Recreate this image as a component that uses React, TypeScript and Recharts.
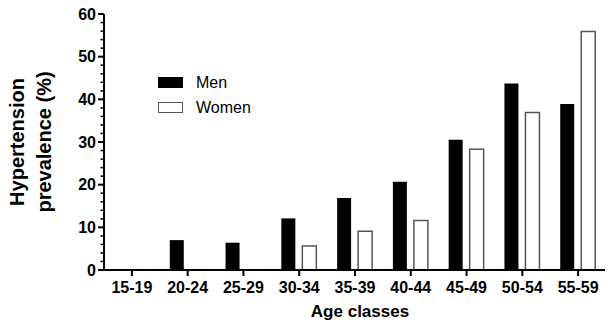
import React from 'react';
import { BarChart, Bar, XAxis, YAxis, Legend } from 'recharts';

const ageClasses = ['15-19', '20-24', '25-29', '30-34', '35-39', '40-44', '45-49', '50-54', '55-59'];
const menValues = [0, 7.0, 6.4, 12.1, 16.9, 20.7, 30.5, 43.7, 38.9];
const womenValues = [0, 0, 0, 5.6, 9.1, 11.6, 28.3, 36.9, 55.9];
const yTicks = [0, 2, 4, 6, 8, 10, 12, 14, 16, 18, 20, 22, 24, 26, 28, 30, 32, 34, 36, 38, 40, 42, 44, 46, 48, 50, 52, 54, 56, 58, 60];
const yMajorTicks = [0, 10, 20, 30, 40, 50, 60];

const data = ageClasses.map((age, i) => ({
  age,
  men: menValues[i],
  women: womenValues[i],
}));

const FONT = '"Liberation Sans", Arial, Helvetica, sans-serif';

const YTick = ({ x, y, payload }: any) => {
  const isMajor = yMajorTicks.includes(payload.value);
  const axisX = x + 8;
  return (
    <g>
      <line
        x1={isMajor ? axisX - 6 : axisX - 3.5}
        x2={axisX}
        y1={y}
        y2={y}
        stroke="#000"
        strokeWidth={isMajor ? 2 : 1.5}
      />
      {isMajor && (
        <text
          x={x}
          y={y}
          dy="0.355em"
          textAnchor="end"
          fontFamily={FONT}
          fontWeight="bold"
          fontSize={16}
          fill="#000"
        >
          {payload.value}
        </text>
      )}
    </g>
  );
};

const YLabel = () => (
  <g fontFamily={FONT} fontWeight="bold" fontSize={20} fill="#000">
    <text x={24} y={142} textAnchor="middle" transform="rotate(-90, 24, 142)">
      Hypertension
    </text>
    <text x={51} y={142} textAnchor="middle" transform="rotate(-90, 51, 142)">
      prevalence (%)
    </text>
  </g>
);

const XLabel = () => (
  <text
    x={360}
    y={317}
    textAnchor="middle"
    fontFamily={FONT}
    fontWeight="bold"
    fontSize={17}
    fill="#000"
  >
    Age classes
  </text>
);

const LegendContent = () => (
  <div style={{ fontFamily: FONT, fontSize: 16, color: '#000' }}>
    {[
      { name: 'Men', fill: '#000', stroke: '#000' },
      { name: 'Women', fill: '#fff', stroke: '#555' },
    ].map((item) => (
      <div key={item.name} style={{ display: 'flex', alignItems: 'center', height: 25 }}>
        <div
          style={{
            width: 23,
            height: 9,
            background: item.fill,
            border: `1px solid ${item.stroke}`,
            marginRight: 13,
          }}
        />
        <span>{item.name}</span>
      </div>
    ))}
  </div>
);

export default function App() {
  return (
    <div style={{ margin: '-8px 0 0 -8px', width: 613, height: 325, background: '#fff' }}>
      <BarChart
        width={613}
        height={325}
        data={data}
        margin={{ top: 14, right: 0, bottom: 25, left: 40 }}
        barSize={14}
        barGap={7}
      >
        <XAxis
          dataKey="age"
          height={30}
          padding={{ left: 0, right: 7 }}
          axisLine={{ stroke: '#000', strokeWidth: 2 }}
          tickLine={{ stroke: '#000', strokeWidth: 2 }}
          tickSize={6}
          tickMargin={6}
          tick={{ fontFamily: FONT, fontWeight: 'bold', fontSize: 16, fill: '#000' }}
          interval={0}
          label={{ content: () => <XLabel /> }}
        />
        <YAxis
          width={64}
          domain={[0, 60]}
          ticks={yTicks}
          interval={0}
          axisLine={{ stroke: '#000', strokeWidth: 2 }}
          tickLine={false}
          tickSize={6}
          tickMargin={2}
          tick={<YTick />}
          label={{ content: () => <YLabel /> }}
        />
        <Legend
          layout="vertical"
          align="center"
          verticalAlign="middle"
          content={<LegendContent />}
          wrapperStyle={{ left: 158, top: 70, width: 'auto' }}
        />
        <Bar dataKey="men" name="Men" fill="#000" isAnimationActive={false} />
        <Bar
          dataKey="women"
          name="Women"
          fill="#fff"
          stroke="#555"
          strokeWidth={1.5}
          isAnimationActive={false}
        />
      </BarChart>
    </div>
  );
}
